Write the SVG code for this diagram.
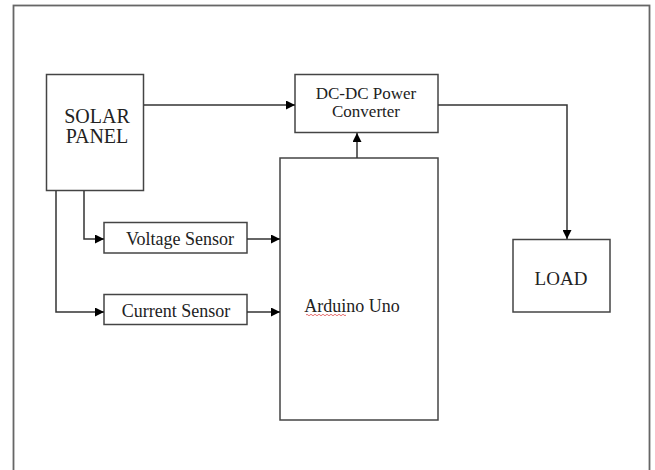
<svg xmlns="http://www.w3.org/2000/svg" width="655" height="470" viewBox="0 0 655 470">
<style>
.box{fill:#fff;stroke:#444;stroke-width:1.5}
.ln{fill:none;stroke:#333;stroke-width:1.5}
.t{font-family:"Liberation Serif","Times New Roman",serif;fill:#222;text-anchor:middle}
</style>
<defs>
<marker id="ah" viewBox="0 0 10 10" refX="10" refY="5" markerWidth="10" markerHeight="9" markerUnits="userSpaceOnUse" orient="auto">
<path d="M0,0 L10,5 L0,10 Z" fill="#000"/>
</marker>
</defs>
<rect width="655" height="470" fill="#fff"/>
<rect x="13.5" y="5.5" width="636" height="480" fill="none" stroke="#666" stroke-width="1.8"/>
<g id="solar">
<rect class="box" x="46.5" y="74.5" width="97" height="116"/>
<text class="t" x="97" y="123" font-size="20">SOLAR</text>
<text class="t" x="97" y="143" font-size="20">PANEL</text>
</g>
<g id="dcdc">
<rect class="box" x="295" y="74.5" width="143" height="58"/>
<text class="t" x="366" y="99" font-size="17">DC-DC Power</text>
<text class="t" x="366" y="117" font-size="17">Converter</text>
</g>
<g id="arduino">
<rect class="box" x="280" y="158" width="158" height="262"/>
<text class="t" x="352" y="312" font-size="18">Arduino Uno</text>
<path d="M306,315 q1,-1.5 2,0 t2,0 t2,0 t2,0 t2,0 t2,0 t2,0 t2,0 t2,0 t2,0 t2,0 t2,0 t2,0 t2,0 t2,0 t2,0 t2,0 t2,0 t2,0 t2,0" fill="none" stroke="#d33" stroke-width="0.7"/>
</g>
<g id="voltage">
<rect class="box" x="104" y="222.5" width="143" height="30.5"/>
<text class="t" x="180" y="245" font-size="18">Voltage Sensor</text>
</g>
<g id="current">
<rect class="box" x="104" y="294.5" width="143" height="30"/>
<text class="t" x="176" y="317" font-size="18">Current Sensor</text>
</g>
<g id="load">
<rect class="box" x="513" y="239.5" width="97" height="72.5"/>
<text class="t" x="561" y="285" font-size="19">LOAD</text>
</g>
<g id="connectors">
<path class="ln" d="M144,105 H295" marker-end="url(#ah)"/>
<path class="ln" d="M357,158 V133" marker-end="url(#ah)"/>
<path class="ln" d="M438,105 H567 V239" marker-end="url(#ah)"/>
<path class="ln" d="M84,191 V239 H104" marker-end="url(#ah)"/>
<path class="ln" d="M56,191 V312 H104" marker-end="url(#ah)"/>
<path class="ln" d="M247,239 H280" marker-end="url(#ah)"/>
<path class="ln" d="M247,312 H280" marker-end="url(#ah)"/>
</g>
</svg>
